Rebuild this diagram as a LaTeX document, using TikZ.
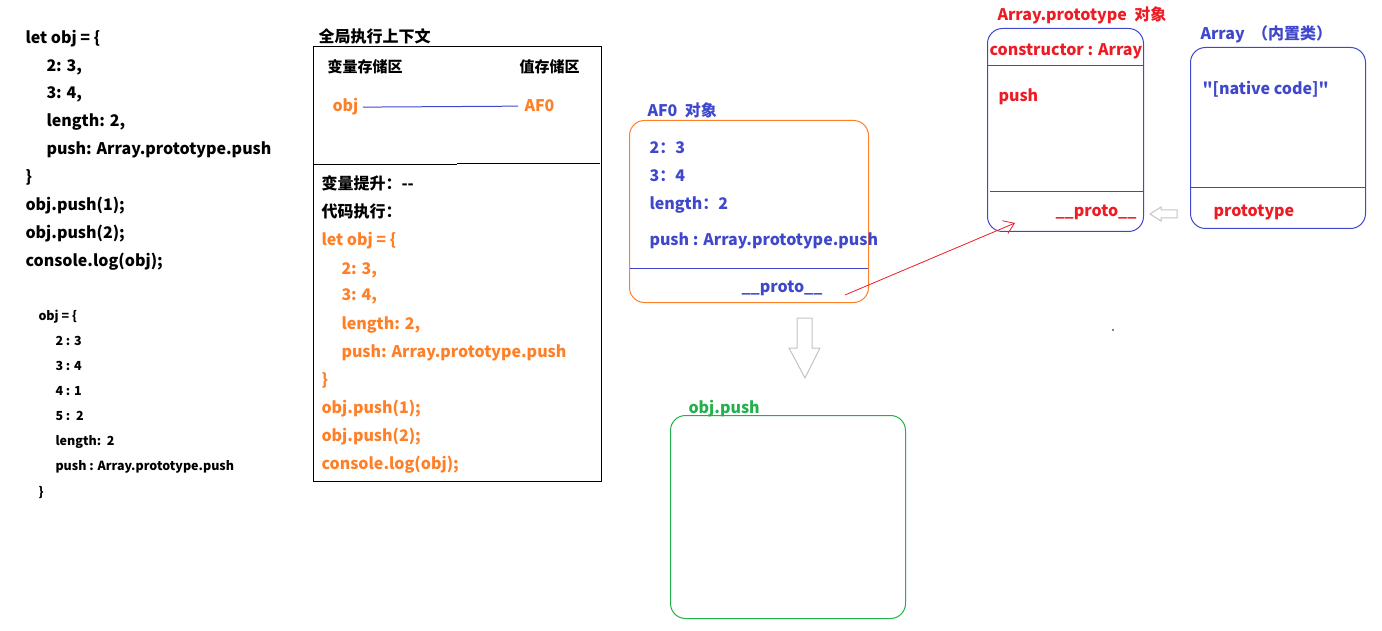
\documentclass[tikz,border=0pt]{standalone}
\usepackage{fontspec}
\setmainfont{Noto Sans CJK SC}[Ligatures=TeXOff]
\usetikzlibrary{arrows.meta}
\definecolor{cOrange}{RGB}{255,127,39}
\definecolor{cBlue}{RGB}{63,72,204}
\definecolor{cRed}{RGB}{237,28,36}
\definecolor{cGreen}{RGB}{34,177,76}
\definecolor{cGray}{RGB}{195,195,195}
\begin{document}
\begin{tikzpicture}[x=1pt,y=-1pt,line width=1pt,
  txt/.style={anchor=base west,inner sep=0pt,font=\fontsize{16}{19}\selectfont\bfseries},
  smalltxt/.style={anchor=base west,inner sep=0pt,font=\fontsize{12.5}{15}\selectfont\bfseries},
  rbox/.style={draw,rounded corners=15pt,anchor=north west,inner sep=0pt},
  sqbox/.style={draw,anchor=north west,inner sep=0pt},
  hollowarrow/.style={draw=cGray,line width=1pt,line join=miter}]
\useasboundingbox (0,0) rectangle (1382,631);

% ---- left code ----
\node[txt] (l1) at (25,44) {let obj = \{};
\node[txt] (l2) at (46,72) {2: 3,};
\node[txt] (l3) at (46,99) {3: 4,};
\node[txt] (l4) at (46,127) {length: 2,};
\node[txt] (l5) at (46,155) {push: Array.prototype.push};
\node[txt] (l6) at (25,183) {\}};
\node[txt] (l7) at (25,211) {obj.push(1);};
\node[txt] (l8) at (25,239) {obj.push(2);};
\node[txt] (l9) at (25,267) {console.log(obj);};

% ---- small result ----
\node[smalltxt] (s1) at (38,320) {obj = \{};
\node[smalltxt] (s2) at (55,345) {2 : 3};
\node[smalltxt] (s3) at (55,370) {3 : 4};
\node[smalltxt] (s4) at (55,395) {4 : 1};
\node[smalltxt] (s5) at (55,420) {5 :\ \ 2};
\node[smalltxt] (s6) at (55,445) {length:\ \ 2};
\node[smalltxt] (s7) at (55,470) {push : Array.prototype.push};
\node[smalltxt] (s8) at (38,496) {\}};

% ---- global execution context ----
\node[txt] (ctxtitle) at (318,43) {全局执行上下文};
\node[sqbox,minimum width=288pt,minimum height=435pt] (ctx) at (313,46) {};
\node[txt,font=\fontsize{15}{18}\selectfont\bfseries] (varh) at (327,73) {变量存储区};
\node[txt,font=\fontsize{15}{18}\selectfont\bfseries] (valh) at (519,73) {值存储区};
\node[txt,text=cOrange] (objv) at (332,112) {obj};
\node[txt,text=cOrange] (af0v) at (524,112) {AF0};
\draw[cBlue] ([xshift=4pt]objv.east) -- ([xshift=-6pt]af0v.west);
\draw (314,165) -- (457,165);
\draw (457,164) -- (600,164);
\node[txt] (hoist) at (321,190) {变量提升：--};
\node[txt] (exec) at (321,218) {代码执行：};
\begin{scope}[every node/.append style={text=cOrange}]
\node[txt] (c1) at (321,246) {let obj = \{};
\node[txt] (c2) at (341,274) {2: 3,};
\node[txt] (c3) at (341,301) {3: 4,};
\node[txt] (c4) at (341,329) {length: 2,};
\node[txt] (c5) at (341,357) {push: Array.prototype.push};
\node[txt] (c6) at (321,385) {\}};
\node[txt] (c7) at (321,413) {obj.push(1);};
\node[txt] (c8) at (321,441) {obj.push(2);};
\node[txt] (c9) at (321,469) {console.log(obj);};
\end{scope}

% ---- AF0 object ----
\node[txt,text=cBlue] (af0title) at (647,117) {AF0\ \ 对象};
\node[rbox,draw=cOrange,minimum width=239pt,minimum height=182pt] (af0) at (629,120) {};
\node[txt,text=cBlue] (a1) at (649,154) {2：3};
\node[txt,text=cBlue] (a2) at (649,182) {3：4};
\node[txt,text=cBlue] (a3) at (649,210) {length：2};
\node[txt,text=cBlue] (a4) at (649,246) {push : Array.prototype.push};
\draw[cBlue] (630,269) -- (868,269);
\node[txt,text=cBlue] (aproto) at (741,293) {\_\_proto\_\_};

% ---- Array.prototype object ----
\node[txt,text=cRed] (aptitle) at (997,21) {Array.prototype\ \ 对象};
\node[rbox,draw=cBlue,minimum width=156pt,minimum height=203pt] (ap) at (987,28) {};
\node[txt,text=cRed] (ctor) at (989,56) {constructor : Array};
\draw[cBlue] (988,66) -- (1143,66);
\node[txt,text=cRed] (push) at (998,102) {push};
\draw[cBlue] (990,192) -- (1143,192);
\node[txt,text=cRed] (approto) at (1055,217) {\_\_proto\_\_};

% ---- Array built-in class ----
\node[txt,text=cBlue] (arrtitle) at (1200,40) {Array\ \ （内置类）};
\node[rbox,draw=cBlue,minimum width=175pt,minimum height=181pt] (arr) at (1190,47) {};
\node[txt,text=cBlue] (native) at (1202,95) {"[native code]"};
\draw[cBlue] (1191,188) -- (1365,188);
\node[txt,text=cRed] (proto) at (1213,217) {prototype};

% ---- obj.push function ----
\node[txt,text=cGreen] (optitle) at (688,413) {obj.push};
\node[rbox,draw=cGreen,minimum width=235pt,minimum height=203pt] (op) at (670,415) {};

% ---- connectors ----
\coordinate (pfrom) at (845,295);
\coordinate (pto) at (1015,223);
\draw[cRed,line width=0.8pt,-{Straight Barb[length=10pt,width=14pt]}] (pfrom) -- (pto);

% gray hollow arrows
\draw[hollowarrow] (797,318) -- (812,318) -- (812,348) -- (820,348) -- (805,378) -- (789,348) -- (797,348) -- cycle;
\draw[hollowarrow] (1177,210) -- (1161,210) -- (1161,207) -- (1150,214) -- (1161,221) -- (1161,218) -- (1177,218) -- cycle;

% small dot
\fill (1113,330) circle (0.8);
\end{tikzpicture}
\end{document}
